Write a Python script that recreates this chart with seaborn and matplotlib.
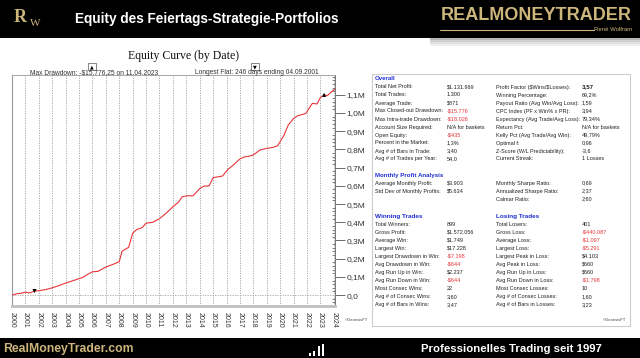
import matplotlib
matplotlib.use("Agg")
import matplotlib.pyplot as plt
import seaborn as sns
import numpy as np
import pandas as pd
from matplotlib.patches import Rectangle
from matplotlib.ticker import MultipleLocator, FuncFormatter

# ---------------- data ----------------
years = [2000.0, 2000.4, 2000.7, 2001.0, 2001.3, 2001.7, 2002.0, 2002.5, 2003.0, 2003.5,
         2004.0, 2004.5, 2005.0, 2005.3, 2005.6, 2006.0, 2006.4, 2007.0, 2007.5, 2008.0,
         2008.2, 2008.4, 2008.7, 2009.0, 2009.3, 2009.7, 2010.0, 2010.5, 2011.0, 2011.5,
         2012.0, 2012.4, 2012.7, 2013.1, 2013.5, 2014.0, 2014.3, 2014.7, 2015.0, 2015.4,
         2015.7, 2016.1, 2016.5, 2017.0, 2017.3, 2017.8, 2018.0, 2018.5, 2019.0, 2019.5,
         2019.8, 2020.0, 2020.3, 2020.6, 2021.0, 2021.3, 2021.9, 2022.4, 2022.75, 2023.0,
         2023.28, 2023.5, 2024.08]
equity_m = [0.0, 0.008, 0.010, 0.016, 0.012, 0.022, 0.024, 0.030, 0.040, 0.052,
            0.066, 0.078, 0.090, 0.098, 0.112, 0.128, 0.130, 0.154, 0.168, 0.183,
            0.240, 0.250, 0.262, 0.340, 0.360, 0.370, 0.395, 0.400, 0.420, 0.450,
            0.485, 0.510, 0.540, 0.546, 0.545, 0.585, 0.598, 0.600, 0.645, 0.650,
            0.654, 0.690, 0.714, 0.748, 0.758, 0.765, 0.770, 0.797, 0.806, 0.812,
            0.820, 0.843, 0.880, 0.934, 0.970, 0.985, 0.997, 1.053, 1.050, 1.085,
            1.100, 1.095, 1.132]
mark_years = [2023.28, 2001.68]
mark_vals_m = [1.100, 0.022]
mark_kind = ["Max Drawdown", "Longest Flat"]
year_ticks = list(range(2000, 2025))
y_ticks_m = [0.0, 0.1, 0.2, 0.3, 0.4, 0.5, 0.6, 0.7, 0.8, 0.9, 1.0, 1.1]

overall_left = ["Total Net Profit:", "Total Trades:", "Average Trade:", "Max Closed-out Drawdown:",
                "Max Intra-trade Drawdown:", "Account Size Required:", "Open Equity:",
                "Percent in the Market:", "Avg # of Bars in Trade:", "Avg # of Trades per Year:"]
overall_left_val = ["$1.131.969", "1.300", "$871", "-$15.776", "-$18.026", "N/A for baskets",
                    "-$435", "1,3%", "3,40", "54,0"]
overall_right = ["Profit Factor ($Wins/$Losses):", "Winning Percentage:",
                 "Payout Ratio (Avg Win/Avg Loss):", "CPC Index (PF x Win% x PR):",
                 "Expectancy (Avg Trade/Avg Loss):", "Return Pct:",
                 "Kelly Pct (Avg Trade/Avg Win):", "Optimal f:", "Z-Score (W/L Predictability):",
                 "Current Streak:"]
overall_right_val = ["3,57", "69,2%", "1,59", "3,94", "79,34%", "N/A for baskets", "49,79%",
                     "0,96", "-3,6", "1 Losses"]
monthly_left = ["Average Monthly Profit:", "Std Dev of Monthly Profits:", ""]
monthly_left_val = ["$3.903", "$5.634", ""]
monthly_right = ["Monthly Sharpe Ratio:", "Annualized Sharpe Ratio:", "Calmar Ratio:"]
monthly_right_val = ["0,69", "2,37", "2,60"]
win_labels = ["Total Winners:", "Gross Profit:", "Average Win:", "Largest Win:",
              "Largest Drawdown in Win:", "Avg Drawdown in Win:", "Avg Run Up in Win:",
              "Avg Run Down in Win:", "Most Consec Wins:", "Avg # of Consec Wins:",
              "Avg # of Bars in Wins:"]
win_vals = ["899", "$1.572.056", "$1.749", "$17.228", "-$7.198", "-$644", "$2.237", "-$644",
            "22", "3,60", "3,47"]
loss_labels = ["Total Losers:", "Gross Loss:", "Average Loss:", "Largest Loss:",
               "Largest Peak in Loss:", "Avg Peak in Loss:", "Avg Run Up in Loss:",
               "Avg Run Down in Loss:", "Most Consec Losses:", "Avg # of Consec Losses:",
               "Avg # of Bars in Losses:"]
loss_vals = ["401", "-$440.087", "-$1.097", "-$5.291", "$4.103", "$660", "$660", "-$1.798",
             "10", "1,60", "3,23"]

# ---------------- style ----------------
sns.set_theme(style="white")
plt.rcParams["font.family"] = ["Liberation Sans", "DejaVu Sans"]

W, H = 640, 358
fig = plt.figure(figsize=(W / 100, H / 100), dpi=100)
fig.patch.set_facecolor("white")


def fx(x):
    return x / W


def fy(y):
    return 1 - y / H


def ftext(x, y, s, **kw):
    kw.setdefault("parse_math", False)
    return fig.text(fx(x), fy(y), s, **kw)


GOLD = "#cdb67c"
RED = "#e8353a"
BLUE = "#1f2fd0"

# header band
fig.patches.append(Rectangle((0, fy(38)), 1, 38 / H, transform=fig.transFigure,
                             facecolor="black", edgecolor="none", zorder=0))
for i, c in enumerate(["#b8b8b8", "#d0d0d0", "#e2e2e2", "#efefef"]):
    fig.patches.append(Rectangle((fx(430), fy(40 + 2 * i)), fx(640) - fx(430), 2 / H,
                                 transform=fig.transFigure, facecolor=c, edgecolor="none",
                                 zorder=0))
ftext(20, 17, "R", color=GOLD, fontsize=13, family=["Liberation Serif", "DejaVu Serif"],
      va="center", ha="center", fontweight="bold")
ftext(35, 24, "W", color=GOLD, fontsize=8, family=["Liberation Serif", "DejaVu Serif"],
      va="center", ha="center")
ftext(75, 19, "Equity des Feiertags-Strategie-Portfolios", color="white", fontsize=9.8,
      fontweight="bold", va="center", ha="left")
ftext(632, 15, "REALMONEYTRADER", color=GOLD, fontsize=13, fontweight="bold",
      va="center", ha="right")
fig.lines.append(plt.Line2D([fx(440), fx(594)], [fy(29.5), fy(29.5)], transform=fig.transFigure,
                            color=GOLD, lw=0.8))
ftext(632, 29.5, "René Wolfram", color=GOLD, fontsize=4.3, va="center", ha="right")

# footer band
fig.patches.append(Rectangle((0, 0), 1, 20 / H, transform=fig.transFigure,
                             facecolor="black", edgecolor="none", zorder=0))
ftext(3, 349, "RealMoneyTrader.com", color=GOLD, fontsize=8.8, fontweight="bold",
      va="center", ha="left")
ftext(602, 349, "Professionelles Trading seit 1997", color="white", fontsize=8.2,
      fontweight="bold", va="center", ha="right")
for bx, bh in [(309, 3), (313, 5), (318, 10), (322, 12)]:
    fig.patches.append(Rectangle((fx(bx), fy(356)), 2.2 / W, bh / H, transform=fig.transFigure,
                                 facecolor="white", edgecolor="none"))

# ---------------- equity chart ----------------
ax = fig.add_axes([fx(12), fy(306), fx(335) - fx(12), fy(75) - fy(306)])
df = pd.DataFrame({"year": years, "equity": np.array(equity_m) * 1e6})
ax.set_xticks(year_ticks)
ax.grid(axis="x", color="#a0a0a0", lw=0.6, ls=(0, (1.5, 1.5)))
ax.axhline(0, color="#a0a0a0", lw=0.6, ls=(0, (1.5, 1.5)), zorder=1)
sns.lineplot(data=df, x="year", y="equity", ax=ax, color=RED, lw=0.8, zorder=3)
mdf = pd.DataFrame({"year": mark_years, "equity": np.array(mark_vals_m) * 1e6, "kind": mark_kind})
sns.scatterplot(data=mdf, x="year", y="equity", style="kind",
                markers={"Max Drawdown": "^", "Longest Flat": "v"}, color="black",
                s=9, ax=ax, legend=False, zorder=4, edgecolor="black", linewidth=0)
ax.set_xlim(2000, 2024.09)
ax.set_ylim(-0.06e6, 1.209e6)
ax.set_xlabel("")
ax.set_ylabel("")
ax.set_xticklabels([str(y) for y in year_ticks], rotation=-90, fontsize=5, color="#333333")
ax.tick_params(axis="x", length=3, width=0.5, color="#888888", pad=1.5)
ax.yaxis.tick_right()
ax.set_yticks(np.array(y_ticks_m) * 1e6)
ax.yaxis.set_major_formatter(FuncFormatter(
    lambda v, p: "0,0" if abs(v) < 1 else f"{v / 1e6:.1f}M".replace(".", ",")))
ax.yaxis.set_minor_locator(MultipleLocator(0.02e6))
ax.tick_params(axis="y", which="major", length=7, width=0.6, color="#555555",
               labelsize=6, labelcolor="#333333", pad=1.5, direction="out")
ax.tick_params(axis="y", which="minor", right=True, length=2.5, width=0.5, color="#555555",
               direction="in")
for side, (c, lw) in {"left": ("#999999", 0.8), "bottom": ("#c0c0c0", 2.0),
                      "top": ("#999999", 0.6), "right": ("#777777", 0.7)}.items():
    ax.spines[side].set_color(c)
    ax.spines[side].set_linewidth(lw)
    ax.spines[side].set_visible(True)
ax.set_facecolor("white")

ftext(183, 56, "Equity Curve (by Date)", fontsize=8.5, family=["Liberation Serif", "DejaVu Serif"],
      ha="center", va="center", color="#111111")
ftext(30, 73, "Max Drawdown: -$15.776,25 on 11.04.2023", fontsize=4.8, ha="left", va="center",
      color="#333333")
ftext(195, 73, "Longest Flat: 246 days ending 04.09.2001", fontsize=4.8, ha="left", va="center",
      color="#333333")
for bx, sym in [(88, "▲"), (251, "▼")]:
    fig.patches.append(Rectangle((fx(bx), fy(70)), 8 / W, 7 / H, transform=fig.transFigure,
                                 facecolor="white", edgecolor="#555555", lw=0.5))
    ftext(bx + 4, 66.5, sym, fontsize=3.5, ha="center", va="center", color="black",
          family=["DejaVu Sans"])
ftext(345, 320, "©GenesisFT", fontsize=3, ha="left", va="center", color="#444444")

# ---------------- stats panel ----------------
fig.patches.append(Rectangle((fx(372), fy(326)), (630 - 372) / W, (326 - 74) / H,
                             transform=fig.transFigure, facecolor="white",
                             edgecolor="#cccccc", lw=0.8, zorder=0.5))
FS = 4.0
LX1, VX1, LX2, VX2 = 375, 447, 496, 582


def val_color(s):
    return RED if s.startswith("-") else "#222222"


ftext(LX1, 79, "Overall", fontsize=4.4, fontweight="bold", color=BLUE, va="center")
for i in range(len(overall_left)):
    y = 87 + 8 * i
    ftext(LX1, y, overall_left[i], fontsize=FS, color="#222222", va="center")
    ftext(VX1, y, overall_left_val[i], fontsize=FS, color=val_color(overall_left_val[i]),
          va="center")
    ftext(LX2, y, overall_right[i], fontsize=FS, color="#222222", va="center")
    ftext(VX2, y, overall_right_val[i], fontsize=FS + (0.4 if i == 0 else 0),
          fontweight="bold" if i == 0 else "normal", color="#222222", va="center")

ftext(LX1, 175, "Monthly Profit Analysis", fontsize=4.4, fontweight="bold", color=BLUE,
      va="center")
for i in range(len(monthly_right)):
    y = 183 + 8 * i
    ftext(LX1, y, monthly_left[i], fontsize=FS, color="#222222", va="center")
    ftext(VX1, y, monthly_left_val[i], fontsize=FS, color="#222222", va="center")
    ftext(LX2, y, monthly_right[i], fontsize=FS, color="#222222", va="center")
    ftext(VX2, y, monthly_right_val[i], fontsize=FS, color="#222222", va="center")

ftext(LX1, 216.5, "Winning Trades", fontsize=4.6, fontweight="bold", color=BLUE, va="center")
ftext(LX2, 216.5, "Losing Trades", fontsize=4.6, fontweight="bold", color=BLUE, va="center")
for i in range(len(win_labels)):
    y = 224.5 + 8 * i
    ftext(LX1, y, win_labels[i], fontsize=FS, color="#222222", va="center")
    ftext(VX1, y, win_vals[i], fontsize=FS, color=val_color(win_vals[i]), va="center")
    ftext(LX2, y, loss_labels[i], fontsize=FS, color="#222222", va="center")
    ftext(VX2, y, loss_vals[i], fontsize=FS, color=val_color(loss_vals[i]), va="center")
ftext(626, 320, "©GenesisFT", fontsize=3, ha="right", va="center", color="#444444")

fig.savefig("out.png", dpi=100)
